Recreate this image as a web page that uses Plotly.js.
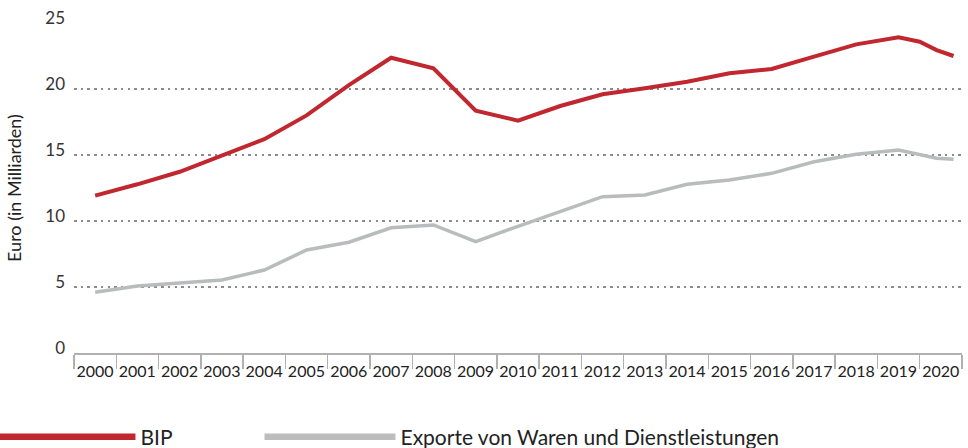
<!DOCTYPE html>
<html>
<head>
<meta charset="utf-8">
<script src="https://cdn.plot.ly/plotly-3.0.1.min.js"></script>
<style>html,body{margin:0;padding:0;background:#fff;}#chart{width:968px;height:448px;}</style>
</head>
<body>
<div id="chart"></div>
<script>
const years = [2000,2001,2002,2003,2004,2005,2006,2007,2008,2009,2010,2011,2012,2013,2014,2015,2016,2017,2018,2019,2020];
const yearLabels = years.map(String);

const bipX = [2000,2001,2002,2003,2004,2005,2006,2007,2008,2009,2010,2011,2012,2013,2014,2015,2016,2017,2018,2019,2019.5,2019.9,2020.3];
const bipY = [11.92,12.78,13.73,14.95,16.2,18.0,20.3,22.37,21.57,18.36,17.6,18.71,19.6,20.05,20.55,21.19,21.52,22.45,23.38,23.92,23.58,22.95,22.5];

const expX = [2000,2001,2002,2003,2004,2005,2006,2007,2008,2009,2010,2011,2012,2013,2014,2015,2016,2017,2018,2019,2019.9,2020.3];
const expY = [4.6,5.08,5.3,5.53,6.29,7.8,8.39,9.49,9.7,8.43,9.6,10.75,11.84,11.97,12.78,13.1,13.61,14.49,15.05,15.38,14.75,14.67];

const yTicks = [0,5,10,15,20,25];
const seriesNames = ['BIP', 'Exporte von Waren und Dienstleistungen'];
const seriesColors = ['#c0272f', '#b9bcbc'];

const tickPos = years.map(y => y - 0.5).concat([2020.5]);
const tickText = yearLabels.concat(['']);

const font = 'Lato, "Open Sans", sans-serif';

const traces = [
  {x: bipX, y: bipY, type: 'scatter', mode: 'lines', name: seriesNames[0], showlegend: false,
   line: {color: seriesColors[0], width: 4}},
  {x: expX, y: expY, type: 'scatter', mode: 'lines', name: seriesNames[1], showlegend: false,
   line: {color: seriesColors[1], width: 3.5}},
  // legend entries (thicker sample lines, no data)
  {x: [null], y: [null], type: 'scatter', mode: 'lines', name: seriesNames[0], showlegend: true, legend: 'legend',
   line: {color: seriesColors[0], width: 6.5}},
  {x: [null], y: [null], type: 'scatter', mode: 'lines', name: seriesNames[1], showlegend: true, legend: 'legend2',
   line: {color: '#bdbdbd', width: 6.5}}
];

const legendBase = {orientation: 'h', xanchor: 'left', y: -0.255, yanchor: 'middle',
  font: {family: font, size: 21, color: '#222'}, bgcolor: 'rgba(0,0,0,0)'};

const layout = {
  width: 968, height: 448,
  margin: {l: 74, r: 6, t: 23, b: 95, autoexpand: false},
  paper_bgcolor: '#fff', plot_bgcolor: '#fff',
  font: {family: font, color: '#222', size: 15},
  showlegend: true,
  legend: Object.assign({}, legendBase, {x: -0.0952, itemwidth: 141}),
  legend2: Object.assign({}, legendBase, {x: 0.2089, itemwidth: 131}),
  xaxis: {type: 'linear', range: [1999.5, 2020.5], tickmode: 'array', tickvals: tickPos, ticktext: tickText,
          ticks: 'outside', ticklen: 14, tickwidth: 1.5, tickcolor: '#b0b0b0',
          ticklabelshift: 21, ticklabelstandoff: -11,
          showline: true, linecolor: '#b0b0b0', linewidth: 1.5, showgrid: false, zeroline: false,
          tickfont: {family: font, size: 16, color: '#222'}, fixedrange: true},
  yaxis: {range: [0, 25], tickmode: 'array', tickvals: yTicks, ticktext: yTicks.map(String),
          showgrid: true, gridcolor: '#8c8c8c', gridwidth: 2.5, griddash: '2.5px,4.2px',
          zeroline: false, showline: false, ticks: '', ticklabelstandoff: 8, ticklabelshift: -5,
          tickfont: {family: font, size: 17, color: '#333'},
          title: {text: 'Euro (in Milliarden)', font: {family: font, size: 18, color: '#222'}, standoff: 18},
          fixedrange: true}
};

Plotly.newPlot('chart', traces, layout, {displayModeBar: false, staticPlot: true});
</script>
</body>
</html>
